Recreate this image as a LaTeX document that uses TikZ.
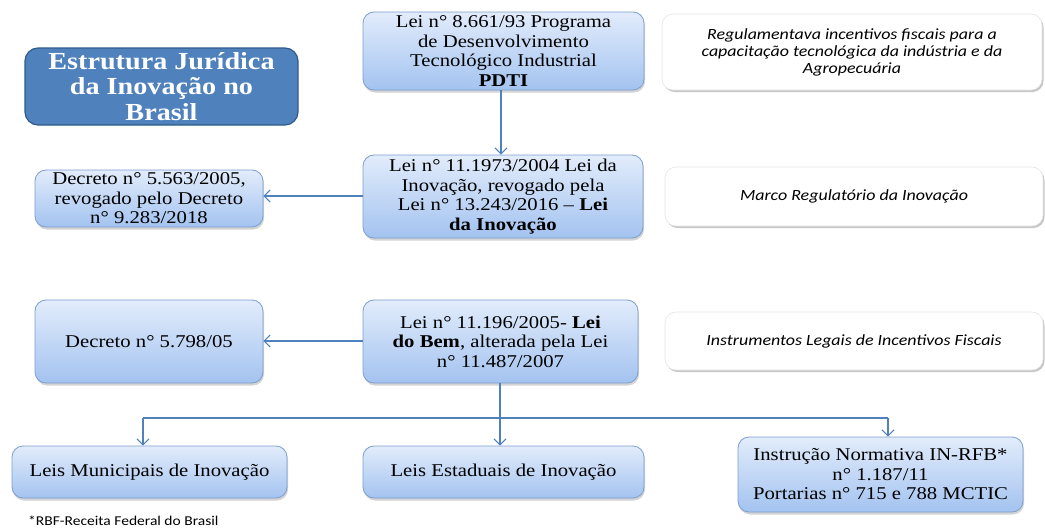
\documentclass[tikz,border=0pt]{standalone}
\usepackage{fontspec}
\setmainfont{Liberation Serif}[FakeStretch=1.15]
\newfontfamily\calfont{Carlito}[FakeStretch=1.15]
\usetikzlibrary{arrows.meta,shadows}
\definecolor{arrblue}{HTML}{4F81BD}
\definecolor{titlefill}{HTML}{4F81BD}
\definecolor{titledraw}{HTML}{2F5B8C}
\definecolor{boxtop}{HTML}{E2ECFB}
\definecolor{boxbot}{HTML}{A3C3F0}
\definecolor{boxdraw}{HTML}{7C9FCF}
\tikzset{
  lbox/.style={draw=boxdraw, line width=0.8pt, rounded corners=11pt, top color=boxtop, bottom color=boxbot,
    align=center, inner sep=2pt, font=\fontsize{18}{19.5}\selectfont,
    drop shadow={opacity=0.35, shadow xshift=1pt, shadow yshift=-2.5pt}},
  rbox/.style={draw=gray!20, line width=0.6pt, rounded corners=11pt, fill=white, align=center,
    font=\calfont\itshape\fontsize{15.6}{17}\selectfont,
    drop shadow={opacity=0.45, shadow xshift=1.5pt, shadow yshift=-2pt}},
  tbox/.style={draw=titledraw, line width=1.2pt, rounded corners=13pt, fill=titlefill, align=center,
    text=white, font=\bfseries\fontsize{24.5}{25.5}\selectfont},
  conn/.style={draw=arrblue, line width=1.1pt},
  arr/.style={conn, -{Straight Barb[length=6pt,width=12pt]}}
}
\begin{document}
\begin{tikzpicture}[x=1pt,y=-1pt]
\useasboundingbox (0,0) rectangle (1045,530);
\node[tbox, minimum width=273pt, minimum height=77pt] (title) at (161.5,86.5)
  {Estrutura Jurídica\\da Inovação no\\Brasil};
\node[lbox, minimum width=281pt, minimum height=78pt] (pdti) at (503.5,51)
  {Lei n° 8.661/93 Programa\\de Desenvolvimento\\Tecnológico Industrial\\\textbf{PDTI}};
\node[rbox, minimum width=380pt, minimum height=76pt] (r1) at (852,52)
  {Regulamentava incentivos fiscais para a\\capacitação tecnológica da indústria e da\\Agropecuária};
\node[lbox, minimum width=280pt, minimum height=83pt] (inov) at (503,196.5)
  {Lei n° 11.1973/2004 Lei da\\Inovação, revogado pela\\Lei n° 13.243/2016 – \textbf{Lei}\\\textbf{da Inovação}};
\node[lbox, minimum width=228pt, minimum height=57pt] (dec1) at (149,198.5)
  {Decreto n° 5.563/2005,\\revogado pelo Decreto\\n° 9.283/2018};
\node[rbox, minimum width=378pt, minimum height=59pt] (r2) at (854,196.5)
  {Marco Regulatório da Inovação};
\node[lbox, minimum width=275pt, minimum height=83pt] (bem) at (500.5,341.5)
  {Lei n° 11.196/2005- \textbf{Lei}\\\textbf{do Bem}, alterada pela Lei\\n° 11.487/2007};
\node[lbox, minimum width=228pt, minimum height=83pt] (dec2) at (149,341.5)
  {Decreto n° 5.798/05};
\node[rbox, minimum width=378pt, minimum height=58pt] (r3) at (854,341)
  {Instrumentos Legais de Incentivos Fiscais};
\node[lbox, minimum width=275pt, minimum height=52pt] (mun) at (149.5,472)
  {Leis Municipais de Inovação};
\node[lbox, minimum width=281pt, minimum height=52pt] (est) at (503.5,472)
  {Leis Estaduais de Inovação};
\node[lbox, minimum width=285pt, minimum height=75pt] (inst) at (880.5,474.5)
  {Instrução Normativa IN-RFB*\\n° 1.187/11\\Portarias n° 715 e 788 MCTIC};
\node[anchor=west, inner sep=0pt, font=\calfont\fontsize{13.5}{14}\selectfont] (foot) at (28,521)
  {*RBF-Receita Federal do Brasil};
% connectors
\draw[arr] (pdti.south -| 501,0) -- (inov.north -| 501,0);
\draw[arr] (inov.west |- 0,196) -- (dec1.east |- 0,196);
\draw[arr] (bem.west |- 0,341) -- (dec2.east |- 0,341);
\draw[arr] (bem.south -| 500,0) -- (est.north -| 500,0);
\coordinate (hl) at (143,418);
\coordinate (hr) at (888,418);
\draw[conn] (hl) -- (hr);
\draw[arr] (hl) -- (hl |- mun.north);
\draw[arr] (hr) -- (hr |- inst.north);
\end{tikzpicture}
\end{document}
